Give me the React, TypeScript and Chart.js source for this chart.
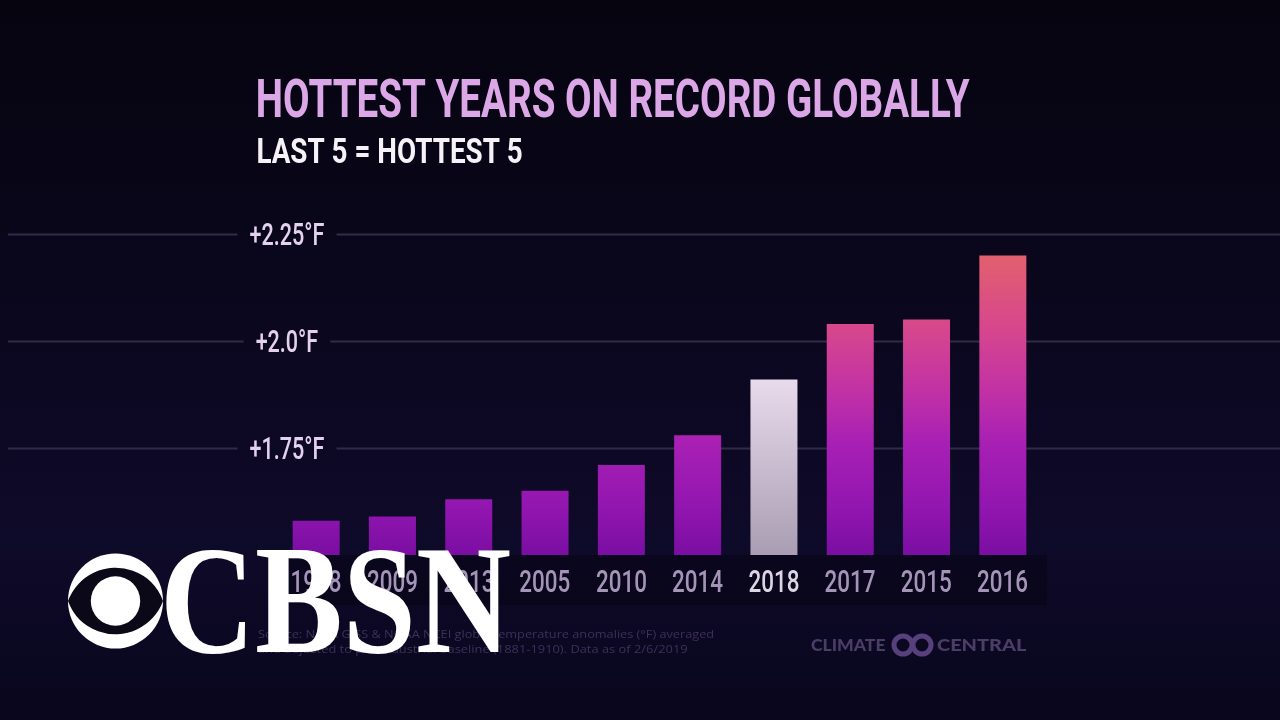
import React, { useEffect, useRef } from "react";
import { Chart, registerables } from "chart.js";

Chart.register(...registerables);

// ---------- data ----------
const TITLE = "HOTTEST YEARS ON RECORD GLOBALLY";
const SUBTITLE = "LAST 5 = HOTTEST 5";
const YEARS = ["1998", "2009", "2013", "2005", "2010", "2014", "2018", "2017", "2015", "2016"];
const ANOMALIES_F = [1.58, 1.59, 1.63, 1.65, 1.71, 1.78, 1.91, 2.04, 2.05, 2.2];
const Y_MIN = 1.5;
const Y_MAX = 2.25;
const Y_TICK_VALUES = [1.75, 2.0, 2.25];
const Y_TICK_LABELS = ["+1.75°F", "+2.0°F", "+2.25°F"];
const HIGHLIGHT_YEAR = "2018";
const SOURCE_LINES = [
  "Source: NASA GISS & NOAA NCEI global temperature anomalies (°F) averaged",
  "and adjusted to pre-industrial baseline (1881-1910). Data as of 2/6/2019",
];
const CREDIT_LEFT = "CLIMATE";
const CREDIT_RIGHT = "CENTRAL";
const NETWORK = "CBSN";

// ---------- helpers ----------
const COND = "Roboto, 'Noto Sans', 'DejaVu Sans', sans-serif";

function inkMetrics(ctx: CanvasRenderingContext2D, text: string) {
  const m = ctx.measureText(text);
  return { l: m.actualBoundingBoxLeft, r: m.actualBoundingBoxRight, w: m.actualBoundingBoxLeft + m.actualBoundingBoxRight };
}

function setFontForCap(ctx: CanvasRenderingContext2D, capH: number, family: string, weight: string | number) {
  ctx.font = `${weight} 100px ${family}`;
  const a = ctx.measureText("H").actualBoundingBoxAscent || 71;
  const size = (capH * 100) / a;
  ctx.font = `${weight} ${size}px ${family}`;
  return size;
}

function drawText(
  ctx: CanvasRenderingContext2D,
  text: string,
  x: number,
  baseline: number,
  capH: number,
  family: string,
  weight: string | number,
  color: string,
  opts: { width?: number; sx?: number; align?: "left" | "center" }
) {
  ctx.save();
  setFontForCap(ctx, capH, family, weight);
  ctx.textAlign = "left";
  ctx.textBaseline = "alphabetic";
  const ink = inkMetrics(ctx, text);
  const sx = opts.width ? opts.width / ink.w : opts.sx ?? 1;
  let drawX: number;
  if (opts.align === "center") drawX = x - ((ink.r - ink.l) / 2) * sx;
  else drawX = x + ink.l * sx;
  ctx.translate(drawX, baseline);
  ctx.scale(sx, 1);
  ctx.fillStyle = color;
  ctx.fillText(text, 0, 0);
  ctx.restore();
  return ink.w * sx;
}

function scaleFor(ctx: CanvasRenderingContext2D, ref: string, capH: number, family: string, weight: string | number, target: number) {
  ctx.save();
  setFontForCap(ctx, capH, family, weight);
  const w = inkMetrics(ctx, ref).w;
  ctx.restore();
  return target / w;
}

// ---------- plugins ----------
const backgroundPlugin = {
  id: "bgPlugin",
  beforeDraw(chart: any) {
    const { ctx, width, height } = chart;
    ctx.save();
    const g = ctx.createLinearGradient(0, 0, 0, height);
    g.addColorStop(0, "#06040f");
    g.addColorStop(0.35, "#0a061b");
    g.addColorStop(0.75, "#0e0a29");
    g.addColorStop(1, "#09061d");
    ctx.fillStyle = g;
    ctx.fillRect(0, 0, width, height);
    ctx.restore();
  },
};

const LABEL_CAP = 22;
const gridPlugin = {
  id: "gridPlugin",
  beforeDatasetsDraw(chart: any) {
    const { ctx, chartArea } = chart;
    const y = chart.scales.y;
    const cx = chartArea.left + 9;
    const sx = scaleFor(ctx, "+2.25°F", LABEL_CAP, COND, 500, 75);
    ctx.save();
    setFontForCap(ctx, LABEL_CAP, COND, 500);
    Y_TICK_VALUES.forEach((v, i) => {
      const py = Math.round(y.getPixelForValue(v)) + 0.5;
      const half = (inkMetrics(ctx, Y_TICK_LABELS[i]).w * sx) / 2 + 12;
      ctx.strokeStyle = "#322a4a";
      ctx.lineWidth = 2;
      ctx.beginPath();
      ctx.moveTo(8, py);
      ctx.lineTo(cx - half, py);
      ctx.moveTo(cx + half, py);
      ctx.lineTo(chart.width, py);
      ctx.stroke();
    });
    ctx.restore();
    Y_TICK_VALUES.forEach((v, i) => {
      const py = y.getPixelForValue(v);
      drawText(ctx, Y_TICK_LABELS[i], cx, py + LABEL_CAP / 2, LABEL_CAP, COND, 500, "#e3d1ee", { sx, align: "center" });
    });
    // darker band behind the year labels
    ctx.save();
    ctx.fillStyle = "rgba(2,1,8,0.3)";
    ctx.fillRect(chartArea.left + 4, chartArea.bottom, chartArea.right - chartArea.left + 2, 50);
    ctx.restore();
  },
};

function drawEye(ctx: CanvasRenderingContext2D, cx: number, cy: number, R: number) {
  ctx.save();
  ctx.fillStyle = "#ffffff";
  ctx.beginPath();
  ctx.arc(cx, cy, R, 0, Math.PI * 2);
  ctx.fill();
  const h = R * 0.7;
  const a = R;
  const r = (a * a + h * h) / (2 * h);
  const d = r - h;
  const th = Math.asin(d / r);
  ctx.fillStyle = "#0b0818";
  ctx.beginPath();
  ctx.arc(cx, cy + d, r, Math.PI + th, 2 * Math.PI - th);
  ctx.arc(cx, cy - d, r, th, Math.PI - th);
  ctx.closePath();
  ctx.fill();
  ctx.fillStyle = "#ffffff";
  ctx.beginPath();
  ctx.arc(cx, cy, R * 0.52, 0, Math.PI * 2);
  ctx.fill();
  ctx.restore();
}

const overlayPlugin = {
  id: "overlayPlugin",
  afterDraw(chart: any) {
    const { ctx } = chart;
    const x = chart.scales.x;
    // titles
    drawText(ctx, TITLE, 258, 117, 39, COND, 700, "#dba7e6", { width: 712 });
    drawText(ctx, SUBTITLE, 258, 163, 25, COND, 700, "#f6f2f8", { width: 264 });
    // year labels
    const sx = scaleFor(ctx, "2005", 22, COND, 500, 50);
    YEARS.forEach((yr, i) => {
      const px = x.getPixelForValue(i);
      drawText(ctx, yr, px, 592, 22, COND, 500, yr === HIGHLIGHT_YEAR ? "#dcd5e3" : "#a494b7", { sx, align: "center" });
    });
    // footer source
    drawText(ctx, SOURCE_LINES[0], 258, 638, 8.5, "'Open Sans', sans-serif", 400, "#3d3159", { width: 456 });
    drawText(ctx, SOURCE_LINES[1], 258, 653, 8.5, "'Open Sans', sans-serif", 400, "#3d3159", { width: 430 });
    // Climate Central credit
    drawText(ctx, CREDIT_LEFT, 811, 651, 12, "Lato, 'Open Sans', sans-serif", 900, "#4b3e66", { width: 74 });
    drawText(ctx, CREDIT_RIGHT, 937, 651, 12, "Lato, 'Open Sans', sans-serif", 900, "#4b3e66", { width: 90 });
    ctx.save();
    ctx.strokeStyle = "#57407c";
    ctx.lineWidth = 5;
    ctx.beginPath();
    ctx.arc(903, 645, 9, 0, Math.PI * 2);
    ctx.stroke();
    ctx.beginPath();
    ctx.arc(922, 645, 9, 0, Math.PI * 2);
    ctx.stroke();
    ctx.restore();
    // CBSN watermark
    drawEye(ctx, 115.5, 601, 47.5);
    drawText(ctx, NETWORK, 166, 652, 100, "'Liberation Serif', 'DejaVu Serif', serif", 700, "#ffffff", { width: 344 });
  },
};

function barFill(c: any) {
  const chart = c.chart;
  const area = chart.chartArea;
  if (!area) return "#8a14a8";
  const g = chart.ctx.createLinearGradient(0, area.top, 0, area.bottom);
  if (YEARS[c.dataIndex] === HIGHLIGHT_YEAR) {
    g.addColorStop(0, "#f2e8f4");
    g.addColorStop(0.45, "#e8dbec");
    g.addColorStop(1, "#a99db3");
  } else {
    g.addColorStop(0, "#e8686a");
    g.addColorStop(0.07, "#e2606e");
    g.addColorStop(0.3, "#d6468e");
    g.addColorStop(0.5, "#c030a6");
    g.addColorStop(0.65, "#a820b4");
    g.addColorStop(0.85, "#9216b0");
    g.addColorStop(1, "#7a0ea2");
  }
  return g;
}

export default function App() {
  const ref = useRef<HTMLCanvasElement | null>(null);
  useEffect(() => {
    if (!ref.current) return;
    const chart = new Chart(ref.current, {
      type: "bar",
      data: {
        labels: YEARS,
        datasets: [
          {
            label: "Temperature anomaly (°F)",
            data: ANOMALIES_F,
            backgroundColor: barFill as any,
            borderWidth: 0,
            barPercentage: 0.616,
            categoryPercentage: 1,
          },
        ],
      },
      options: {
        animation: false,
        responsive: false,
        devicePixelRatio: 1,
        layout: { padding: { left: 278, right: 239, top: 234, bottom: 165 } },
        plugins: { legend: { display: false }, tooltip: { enabled: false }, title: { display: false } },
        scales: {
          x: { display: false, offset: true },
          y: { display: false, min: Y_MIN, max: Y_MAX, ticks: { stepSize: 0.25 } },
        },
      },
      plugins: [backgroundPlugin, gridPlugin, overlayPlugin],
    });
    return () => chart.destroy();
  }, []);
  return (
    <div style={{ position: "fixed", left: 0, top: 0, width: 1280, height: 720, background: "#080516" }}>
      <canvas ref={ref} width={1280} height={720} style={{ display: "block" }} />
    </div>
  );
}
